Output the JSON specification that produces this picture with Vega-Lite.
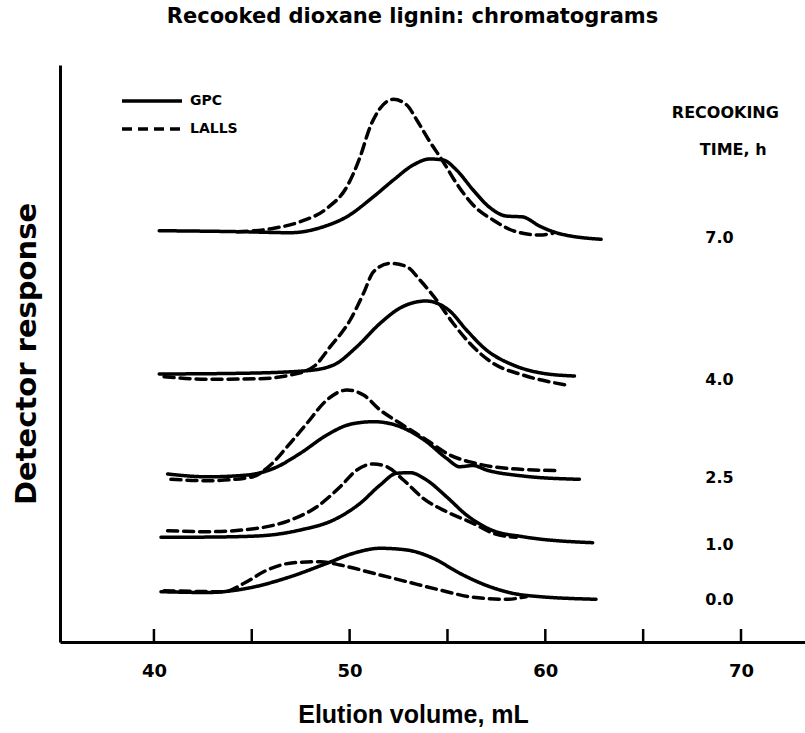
{
  "$schema": "https://vega.github.io/schema/vega-lite/v6.json",
  "autosize": "none",
  "width": 745,
  "height": 577,
  "padding": {"left": 60, "top": 65, "right": 0, "bottom": 91},
  "background": "white",
  "config": {"font": "DejaVu Sans", "view": {"stroke": null}},
  "title": {"text": "Recooked dioxane lignin: chromatograms", "font": "DejaVu Sans", "fontSize": 21, "fontWeight": "bold", "color": "black", "offset": 38, "anchor": "middle", "dx": -20},
  "datasets": {
    "traces": [
      {"time": "7.0", "detector": "GPC", "x": 40.27, "y": 411.3},
      {"time": "7.0", "detector": "GPC", "x": 44.43, "y": 410.3},
      {"time": "7.0", "detector": "GPC", "x": 46.98, "y": 409.3},
      {"time": "7.0", "detector": "GPC", "x": 48.67, "y": 415.3},
      {"time": "7.0", "detector": "GPC", "x": 49.86, "y": 425.3},
      {"time": "7.0", "detector": "GPC", "x": 51.22, "y": 445.3},
      {"time": "7.0", "detector": "GPC", "x": 52.24, "y": 462},
      {"time": "7.0", "detector": "GPC", "x": 53.25, "y": 477},
      {"time": "7.0", "detector": "GPC", "x": 54.1, "y": 483},
      {"time": "7.0", "detector": "GPC", "x": 54.78, "y": 482},
      {"time": "7.0", "detector": "GPC", "x": 55.46, "y": 472},
      {"time": "7.0", "detector": "GPC", "x": 56.31, "y": 452},
      {"time": "7.0", "detector": "GPC", "x": 57.16, "y": 434.5},
      {"time": "7.0", "detector": "GPC", "x": 58.0, "y": 426},
      {"time": "7.0", "detector": "GPC", "x": 58.85, "y": 425},
      {"time": "7.0", "detector": "GPC", "x": 59.7, "y": 416},
      {"time": "7.0", "detector": "GPC", "x": 60.55, "y": 409.3},
      {"time": "7.0", "detector": "GPC", "x": 62.85, "y": 402.7},
      {"time": "7.0", "detector": "LALLS", "x": 44.26, "y": 410.3},
      {"time": "7.0", "detector": "LALLS", "x": 46.13, "y": 413.7},
      {"time": "7.0", "detector": "LALLS", "x": 47.48, "y": 420.3},
      {"time": "7.0", "detector": "LALLS", "x": 48.84, "y": 433.7},
      {"time": "7.0", "detector": "LALLS", "x": 49.86, "y": 455.3},
      {"time": "7.0", "detector": "LALLS", "x": 50.54, "y": 485.3},
      {"time": "7.0", "detector": "LALLS", "x": 51.05, "y": 515.3},
      {"time": "7.0", "detector": "LALLS", "x": 51.56, "y": 533.7},
      {"time": "7.0", "detector": "LALLS", "x": 52.24, "y": 542.7},
      {"time": "7.0", "detector": "LALLS", "x": 52.92, "y": 537},
      {"time": "7.0", "detector": "LALLS", "x": 53.43, "y": 522},
      {"time": "7.0", "detector": "LALLS", "x": 54.1, "y": 500.3},
      {"time": "7.0", "detector": "LALLS", "x": 54.78, "y": 480.3},
      {"time": "7.0", "detector": "LALLS", "x": 55.46, "y": 458.7},
      {"time": "7.0", "detector": "LALLS", "x": 56.31, "y": 437},
      {"time": "7.0", "detector": "LALLS", "x": 57.33, "y": 422},
      {"time": "7.0", "detector": "LALLS", "x": 58.51, "y": 410.3},
      {"time": "7.0", "detector": "LALLS", "x": 59.7, "y": 407},
      {"time": "7.0", "detector": "LALLS", "x": 60.38, "y": 408.7},
      {"time": "4.0", "detector": "GPC", "x": 40.27, "y": 268},
      {"time": "4.0", "detector": "GPC", "x": 44.43, "y": 268.7},
      {"time": "4.0", "detector": "GPC", "x": 47.82, "y": 271.3},
      {"time": "4.0", "detector": "GPC", "x": 49.18, "y": 277},
      {"time": "4.0", "detector": "GPC", "x": 50.37, "y": 295.3},
      {"time": "4.0", "detector": "GPC", "x": 51.56, "y": 318.7},
      {"time": "4.0", "detector": "GPC", "x": 52.58, "y": 334},
      {"time": "4.0", "detector": "GPC", "x": 53.3, "y": 339.5},
      {"time": "4.0", "detector": "GPC", "x": 53.9, "y": 341},
      {"time": "4.0", "detector": "GPC", "x": 54.5, "y": 338.5},
      {"time": "4.0", "detector": "GPC", "x": 55.12, "y": 331},
      {"time": "4.0", "detector": "GPC", "x": 55.97, "y": 312},
      {"time": "4.0", "detector": "GPC", "x": 56.99, "y": 292},
      {"time": "4.0", "detector": "GPC", "x": 58.35, "y": 277},
      {"time": "4.0", "detector": "GPC", "x": 59.7, "y": 269.3},
      {"time": "4.0", "detector": "GPC", "x": 61.49, "y": 266},
      {"time": "4.0", "detector": "LALLS", "x": 40.52, "y": 265.3},
      {"time": "4.0", "detector": "LALLS", "x": 42.73, "y": 262.7},
      {"time": "4.0", "detector": "LALLS", "x": 45.28, "y": 263.2},
      {"time": "4.0", "detector": "LALLS", "x": 46.98, "y": 267},
      {"time": "4.0", "detector": "LALLS", "x": 48.16, "y": 275.3},
      {"time": "4.0", "detector": "LALLS", "x": 49.01, "y": 295.3},
      {"time": "4.0", "detector": "LALLS", "x": 50.03, "y": 322},
      {"time": "4.0", "detector": "LALLS", "x": 50.71, "y": 348.7},
      {"time": "4.0", "detector": "LALLS", "x": 51.22, "y": 370.3},
      {"time": "4.0", "detector": "LALLS", "x": 52.07, "y": 378.7},
      {"time": "4.0", "detector": "LALLS", "x": 52.92, "y": 375.3},
      {"time": "4.0", "detector": "LALLS", "x": 53.59, "y": 362},
      {"time": "4.0", "detector": "LALLS", "x": 54.44, "y": 342},
      {"time": "4.0", "detector": "LALLS", "x": 55.29, "y": 318.7},
      {"time": "4.0", "detector": "LALLS", "x": 56.14, "y": 298.7},
      {"time": "4.0", "detector": "LALLS", "x": 57.33, "y": 278.7},
      {"time": "4.0", "detector": "LALLS", "x": 58.85, "y": 267},
      {"time": "4.0", "detector": "LALLS", "x": 61.06, "y": 257},
      {"time": "2.5", "detector": "GPC", "x": 40.7, "y": 168},
      {"time": "2.5", "detector": "GPC", "x": 42.73, "y": 165.2},
      {"time": "2.5", "detector": "GPC", "x": 44.77, "y": 167},
      {"time": "2.5", "detector": "GPC", "x": 46.13, "y": 173.7},
      {"time": "2.5", "detector": "GPC", "x": 47.48, "y": 188.7},
      {"time": "2.5", "detector": "GPC", "x": 48.84, "y": 207},
      {"time": "2.5", "detector": "GPC", "x": 50.03, "y": 217.7},
      {"time": "2.5", "detector": "GPC", "x": 51.22, "y": 220.3},
      {"time": "2.5", "detector": "GPC", "x": 52.58, "y": 215.3},
      {"time": "2.5", "detector": "GPC", "x": 53.93, "y": 200.3},
      {"time": "2.5", "detector": "GPC", "x": 54.95, "y": 183.7},
      {"time": "2.5", "detector": "GPC", "x": 55.63, "y": 175.3},
      {"time": "2.5", "detector": "GPC", "x": 56.31, "y": 176.5},
      {"time": "2.5", "detector": "GPC", "x": 56.99, "y": 172},
      {"time": "2.5", "detector": "GPC", "x": 58.85, "y": 166},
      {"time": "2.5", "detector": "GPC", "x": 61.74, "y": 162.7},
      {"time": "2.5", "detector": "LALLS", "x": 40.87, "y": 162.7},
      {"time": "2.5", "detector": "LALLS", "x": 42.73, "y": 161.3},
      {"time": "2.5", "detector": "LALLS", "x": 44.94, "y": 164.7},
      {"time": "2.5", "detector": "LALLS", "x": 45.96, "y": 177},
      {"time": "2.5", "detector": "LALLS", "x": 46.81, "y": 195.3},
      {"time": "2.5", "detector": "LALLS", "x": 47.82, "y": 218.7},
      {"time": "2.5", "detector": "LALLS", "x": 48.84, "y": 242},
      {"time": "2.5", "detector": "LALLS", "x": 49.86, "y": 252},
      {"time": "2.5", "detector": "LALLS", "x": 50.71, "y": 247},
      {"time": "2.5", "detector": "LALLS", "x": 51.56, "y": 232},
      {"time": "2.5", "detector": "LALLS", "x": 52.58, "y": 218.7},
      {"time": "2.5", "detector": "LALLS", "x": 53.93, "y": 202},
      {"time": "2.5", "detector": "LALLS", "x": 55.12, "y": 187},
      {"time": "2.5", "detector": "LALLS", "x": 56.31, "y": 179.3},
      {"time": "2.5", "detector": "LALLS", "x": 58.0, "y": 173.7},
      {"time": "2.5", "detector": "LALLS", "x": 60.72, "y": 171.3},
      {"time": "1.0", "detector": "GPC", "x": 40.36, "y": 104.7},
      {"time": "1.0", "detector": "GPC", "x": 42.73, "y": 104.9},
      {"time": "1.0", "detector": "GPC", "x": 45.28, "y": 106},
      {"time": "1.0", "detector": "GPC", "x": 47.48, "y": 112},
      {"time": "1.0", "detector": "GPC", "x": 49.18, "y": 122},
      {"time": "1.0", "detector": "GPC", "x": 50.54, "y": 138.7},
      {"time": "1.0", "detector": "GPC", "x": 51.56, "y": 157},
      {"time": "1.0", "detector": "GPC", "x": 52.41, "y": 168.7},
      {"time": "1.0", "detector": "GPC", "x": 53.09, "y": 169.3},
      {"time": "1.0", "detector": "GPC", "x": 53.93, "y": 162},
      {"time": "1.0", "detector": "GPC", "x": 54.95, "y": 145.3},
      {"time": "1.0", "detector": "GPC", "x": 55.97, "y": 127},
      {"time": "1.0", "detector": "GPC", "x": 57.33, "y": 111.3},
      {"time": "1.0", "detector": "GPC", "x": 58.85, "y": 105.3},
      {"time": "1.0", "detector": "GPC", "x": 62.42, "y": 99.3},
      {"time": "1.0", "detector": "LALLS", "x": 40.7, "y": 111.3},
      {"time": "1.0", "detector": "LALLS", "x": 42.73, "y": 110.3},
      {"time": "1.0", "detector": "LALLS", "x": 45.28, "y": 113.7},
      {"time": "1.0", "detector": "LALLS", "x": 46.98, "y": 122},
      {"time": "1.0", "detector": "LALLS", "x": 48.33, "y": 135.3},
      {"time": "1.0", "detector": "LALLS", "x": 49.52, "y": 155.3},
      {"time": "1.0", "detector": "LALLS", "x": 50.37, "y": 172},
      {"time": "1.0", "detector": "LALLS", "x": 51.22, "y": 178},
      {"time": "1.0", "detector": "LALLS", "x": 51.9, "y": 175.3},
      {"time": "1.0", "detector": "LALLS", "x": 52.75, "y": 162},
      {"time": "1.0", "detector": "LALLS", "x": 53.76, "y": 143.7},
      {"time": "1.0", "detector": "LALLS", "x": 54.95, "y": 130.3},
      {"time": "1.0", "detector": "LALLS", "x": 56.31, "y": 118.7},
      {"time": "1.0", "detector": "LALLS", "x": 57.33, "y": 108.7},
      {"time": "1.0", "detector": "LALLS", "x": 58.51, "y": 104.7},
      {"time": "0.0", "detector": "GPC", "x": 40.36, "y": 50.3},
      {"time": "0.0", "detector": "GPC", "x": 42.73, "y": 49.5},
      {"time": "0.0", "detector": "GPC", "x": 44.77, "y": 53.7},
      {"time": "0.0", "detector": "GPC", "x": 46.98, "y": 65.3},
      {"time": "0.0", "detector": "GPC", "x": 48.84, "y": 78.7},
      {"time": "0.0", "detector": "GPC", "x": 50.2, "y": 88.7},
      {"time": "0.0", "detector": "GPC", "x": 51.56, "y": 93.7},
      {"time": "0.0", "detector": "GPC", "x": 52.92, "y": 92},
      {"time": "0.0", "detector": "GPC", "x": 54.27, "y": 83.7},
      {"time": "0.0", "detector": "GPC", "x": 55.63, "y": 68.7},
      {"time": "0.0", "detector": "GPC", "x": 57.16, "y": 55.3},
      {"time": "0.0", "detector": "GPC", "x": 58.85, "y": 47},
      {"time": "0.0", "detector": "GPC", "x": 62.59, "y": 42.7},
      {"time": "0.0", "detector": "LALLS", "x": 40.52, "y": 51.3},
      {"time": "0.0", "detector": "LALLS", "x": 43.58, "y": 50.3},
      {"time": "0.0", "detector": "LALLS", "x": 44.6, "y": 58.7},
      {"time": "0.0", "detector": "LALLS", "x": 45.79, "y": 72},
      {"time": "0.0", "detector": "LALLS", "x": 47.14, "y": 79.3},
      {"time": "0.0", "detector": "LALLS", "x": 48.5, "y": 80.3},
      {"time": "0.0", "detector": "LALLS", "x": 49.52, "y": 77},
      {"time": "0.0", "detector": "LALLS", "x": 51.22, "y": 68.7},
      {"time": "0.0", "detector": "LALLS", "x": 52.92, "y": 60.3},
      {"time": "0.0", "detector": "LALLS", "x": 54.61, "y": 52},
      {"time": "0.0", "detector": "LALLS", "x": 56.31, "y": 44.7},
      {"time": "0.0", "detector": "LALLS", "x": 58.0, "y": 42.7},
      {"time": "0.0", "detector": "LALLS", "x": 59.02, "y": 45.3}
    ],
    "labels": [
      {"label": "RECOOKING", "x": 69.2, "y": 529},
      {"label": "TIME, h", "x": 69.6, "y": 492},
      {"label": "7.0", "x": 68.9, "y": 404},
      {"label": "4.0", "x": 68.9, "y": 262},
      {"label": "2.5", "x": 68.9, "y": 164},
      {"label": "1.0", "x": 68.9, "y": 97},
      {"label": "0.0", "x": 68.9, "y": 42}
    ],
    "ticks": [{"t": 40}, {"t": 45}, {"t": 50}, {"t": 55}, {"t": 60}, {"t": 65}, {"t": 70}]
  },
  "layer": [
    {
      "data": {"name": "traces"},
      "mark": {"type": "line", "color": "black", "strokeWidth": 3.5, "interpolate": "monotone", "strokeCap": "round", "clip": true},
      "encoding": {
        "x": {"field": "x", "type": "quantitative", "scale": {"domain": [35.2, 73.27], "nice": false, "zero": false},
          "axis": {"values": [40, 50, 60, 70], "title": "Elution volume, mL", "titleFont": "Liberation Sans", "titleFontSize": 25, "titleFontWeight": "bold", "titlePadding": 22, "titleColor": "black", "titleX": 353, "labelFontSize": 18, "labelFontWeight": "bold", "labelColor": "black", "labelPadding": 20, "ticks": false, "domainColor": "black", "domainWidth": 3, "grid": false}},
        "y": {"field": "y", "type": "quantitative", "scale": {"domain": [0, 577], "nice": false, "zero": false},
          "axis": {"labels": false, "ticks": false, "grid": false, "title": "Detector response", "titleFontSize": 29, "titleFontWeight": "bold", "titleColor": "black", "titlePadding": 19, "domainColor": "black", "domainWidth": 3}},
        "detail": {"field": "time"},
        "strokeDash": {"field": "detector", "type": "nominal", "scale": {"domain": ["GPC", "LALLS"], "range": [[1, 0], [10, 6]]},
          "legend": {"title": null, "orient": "none", "legendX": 75, "legendY": 19, "symbolType": "M-2,0H2", "symbolSize": 900, "symbolStrokeWidth": 3.5, "symbolStrokeColor": "black", "symbolFillColor": "transparent", "labelOffset": 21, "labelFontSize": 14, "labelFontWeight": "bold", "labelColor": "black", "rowPadding": 4}}
      }
    },
    {
      "data": {"name": "ticks"},
      "mark": {"type": "rule", "color": "black", "strokeWidth": 2.5},
      "encoding": {
        "x": {"field": "t", "type": "quantitative"},
        "y": {"datum": 0},
        "y2": {"datum": 13}
      }
    },
    {
      "data": {"name": "labels"},
      "mark": {"type": "text", "fontSize": 16, "fontWeight": "bold", "color": "black", "align": "center", "baseline": "middle"},
      "encoding": {
        "x": {"field": "x", "type": "quantitative"},
        "y": {"field": "y", "type": "quantitative"},
        "text": {"field": "label"}
      }
    }
  ]
}
